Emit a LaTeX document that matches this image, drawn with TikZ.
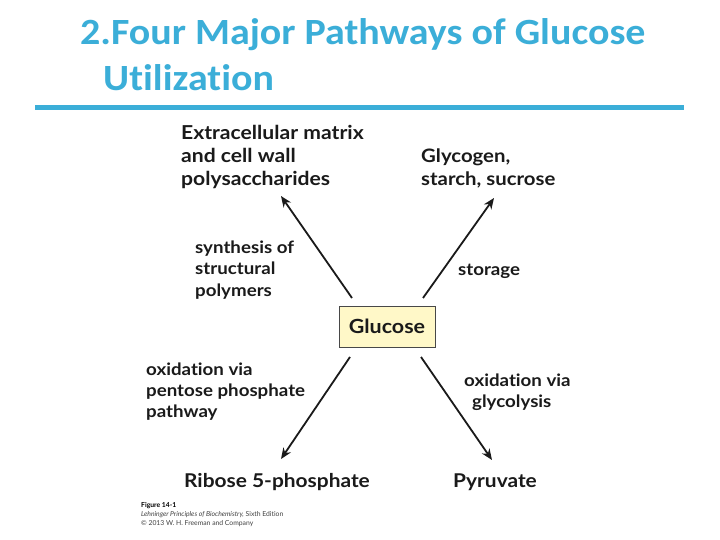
\documentclass[tikz,border=0pt]{standalone}
\usepackage{fontspec}
\setmainfont[Ligatures=NoCommon]{Carlito}
\newfontfamily\titlefont[FakeStretch=1.08,Ligatures=NoCommon]{Carlito}
\newfontfamily\diagfont[FakeStretch=1.1,Ligatures=NoCommon]{Lato}
\newfontfamily\capfont[Ligatures=NoCommon]{Lato}
\usetikzlibrary{arrows.meta}
\definecolor{titleblue}{HTML}{3BAED8}
\definecolor{boxfill}{HTML}{FFF8C8}
\definecolor{ink}{HTML}{1A1A1A}
\tikzset{
  lbl/.style={font=\diagfont\bfseries\fontsize{18.5}{23.5}\selectfont, text=ink, align=left, inner sep=0pt, anchor=base west},
  garrow/.style={draw=ink, line width=1.8pt, -{Stealth[length=11pt,width=9pt]}},
  captxt/.style={font=\capfont\fontsize{6.8}{9}\selectfont, text=black!75, inner sep=0pt, anchor=base west},
  ttl/.style={font=\titlefont\bfseries\fontsize{37}{46}\selectfont, text=titleblue, anchor=base west, inner sep=0pt}
}
\begin{document}
\begin{tikzpicture}[x=1pt,y=-1pt]
\useasboundingbox (0,0) rectangle (720,540);
\fill[white] (0,0) rectangle (720,540);
% title
\node[ttl] (t1) at (80,45) {2.Four Major Pathways of Glucose};
\node[ttl] (t2) at (103,91) {Utilization};
\draw[titleblue, line width=5pt] (35,107.5) coordinate (r1) -- (684,107.5) coordinate (r2);
% glucose
\node[draw=ink!80, line width=0.8pt, fill=boxfill, minimum width=96pt, minimum height=41pt, inner sep=0pt, font=\diagfont\bfseries\fontsize{19.5}{22}\selectfont, text=ink] (g) at (387,326.5) {Glucose};
% targets
\node[lbl, font=\diagfont\bfseries\fontsize{19.2}{23.5}\selectfont] (ecm) at (181,186) {Extracellular matrix\\and cell wall\\polysaccharides};
\node[lbl] (gly) at (421,186) {Glycogen,\\starch, sucrose};
\node[lbl, font=\diagfont\bfseries\fontsize{17}{21.5}\selectfont] (ssp) at (195,296) {synthesis of\\structural\\polymers};
\node[lbl, font=\diagfont\bfseries\fontsize{17}{21.5}\selectfont] (sto) at (458,275) {storage};
\node[lbl, font=\diagfont\bfseries\fontsize{17}{21}\selectfont] (ppp) at (146,417) {oxidation via\\pentose phosphate\\pathway};
\node[lbl, font=\diagfont\bfseries\fontsize{17}{21}\selectfont] (ovg) at (464,386) {oxidation via};
\node[lbl, font=\diagfont\bfseries\fontsize{17}{21}\selectfont] (glc) at (472,407) {glycolysis};
\node[lbl, font=\diagfont\bfseries\fontsize{19}{22}\selectfont] (r5p) at (184,487) {Ribose 5-phosphate};
\node[lbl, font=\diagfont\bfseries\fontsize{19}{22}\selectfont] (pyr) at (453,487) {Pyruvate};
% arrows
\coordinate (a1s) at (352,298); \coordinate (a1e) at (281,196);
\coordinate (a2s) at (423,298); \coordinate (a2e) at (494,198);
\coordinate (a3s) at (350,357); \coordinate (a3e) at (281,459);
\coordinate (a4s) at (421,357); \coordinate (a4e) at (492,460);
\draw[garrow] (a1s) -- (a1e);
\draw[garrow] (a2s) -- (a2e);
\draw[garrow] (a3s) -- (a3e);
\draw[garrow] (a4s) -- (a4e);
% caption
\node[captxt, font=\capfont\bfseries\fontsize{6.8}{9}\selectfont, text=black] (f1) at (141,507) {Figure 14-1};
\node[captxt] (f2) at (141,516) {\itshape Lehninger Principles of Biochemistry,\upshape\ Sixth Edition};
\node[captxt] (f3) at (141,525) {\char"00A9\ 2013 W. H. Freeman and Company};
\end{tikzpicture}
\end{document}
